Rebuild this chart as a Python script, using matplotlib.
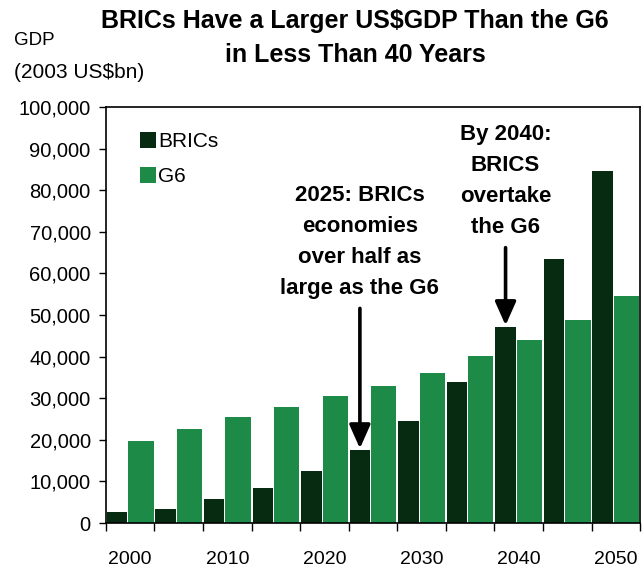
import matplotlib
matplotlib.use('Agg')
import matplotlib.pyplot as plt
import numpy as np

# Data (2003 US$bn)
years = [2000, 2005, 2010, 2015, 2020, 2025, 2030, 2035, 2040, 2045, 2050]
brics = [2700, 3400, 5800, 8400, 12500, 17600, 24600, 34000, 47200, 63600, 84600]
g6 = [19800, 22700, 25500, 28000, 30600, 33000, 36100, 40200, 44100, 48700, 54700]
tick_labels = ['2000', '', '2010', '', '2020', '', '2030', '', '2040', '', '2050']

BRICS_COLOR = '#062b10'
G6_COLOR = '#1e8a48'

plt.rcParams['font.family'] = ['Liberation Sans', 'DejaVu Sans']

fig = plt.figure(figsize=(6.42, 5.76), dpi=100)
ax = fig.add_axes([0.165, 0.092, 0.832, 0.722])

x = np.arange(len(years))
ax.bar(x - 0.5 + 0.02, brics, width=0.42, align='edge', color=BRICS_COLOR, label='BRICs')
ax.bar(x - 0.5 + 0.46, g6, width=0.52, align='edge', color=G6_COLOR, label='G6')

ax.set_xlim(-0.5, len(years) - 0.5)
ax.set_ylim(0, 100000)
ax.set_yticks(np.arange(0, 100001, 10000))
ax.set_yticklabels([f'{v:,}' for v in range(0, 100001, 10000)])
ax.set_xticks(x)
ax.set_xticklabels(tick_labels)
ax.set_xticks(np.arange(-0.5, len(years)), minor=True)
ax.tick_params(axis='x', which='major', length=0, pad=20, labelsize=14)
ax.tick_params(axis='x', which='minor', length=6, width=1, direction='out')
ax.tick_params(axis='y', length=5, width=1, labelsize=14.5, pad=6)
for s in ax.spines.values():
    s.set_linewidth(1.2)

ax.legend(loc='upper left', bbox_to_anchor=(0.028, 0.985), frameon=False, fontsize=15,
          handlelength=0.8, handleheight=0.8, handletextpad=0.1, labelspacing=0.75)

# Annotations
bx = 0.02 - 0.5 + 0.21
arrow = dict(arrowstyle='-|>,head_length=0.9,head_width=0.4', color='black', lw=2.6,
             shrinkA=5, shrinkB=1)
ax.annotate('2025: BRICs\neconomies\nover half as\nlarge as the G6',
            xy=(5 + bx, brics[5]), xytext=(5 + bx, 81300),
            ha='center', va='top', fontsize=16, fontweight='bold', linespacing=1.62,
            arrowprops=arrow)
ax.annotate('By 2040:\nBRICS\novertake\nthe G6',
            xy=(8 + bx, brics[8]), xytext=(8 + bx, 95900),
            ha='center', va='top', fontsize=16, fontweight='bold', linespacing=1.62,
            arrowprops=arrow)

# Title as two separate lines
fig.text(0.553, 0.963, 'BRICs Have a Larger US$GDP Than the G6',
         ha='center', va='center', fontsize=18, fontweight='bold')
fig.text(0.553, 0.904, 'in Less Than 40 Years',
         ha='center', va='center', fontsize=18, fontweight='bold')
fig.text(0.022, 0.93, 'GDP', ha='left', va='center', fontsize=13.5)
fig.text(0.022, 0.875, '(2003 US$bn)', ha='left', va='center', fontsize=15)

fig.savefig('out.png', dpi=100)
